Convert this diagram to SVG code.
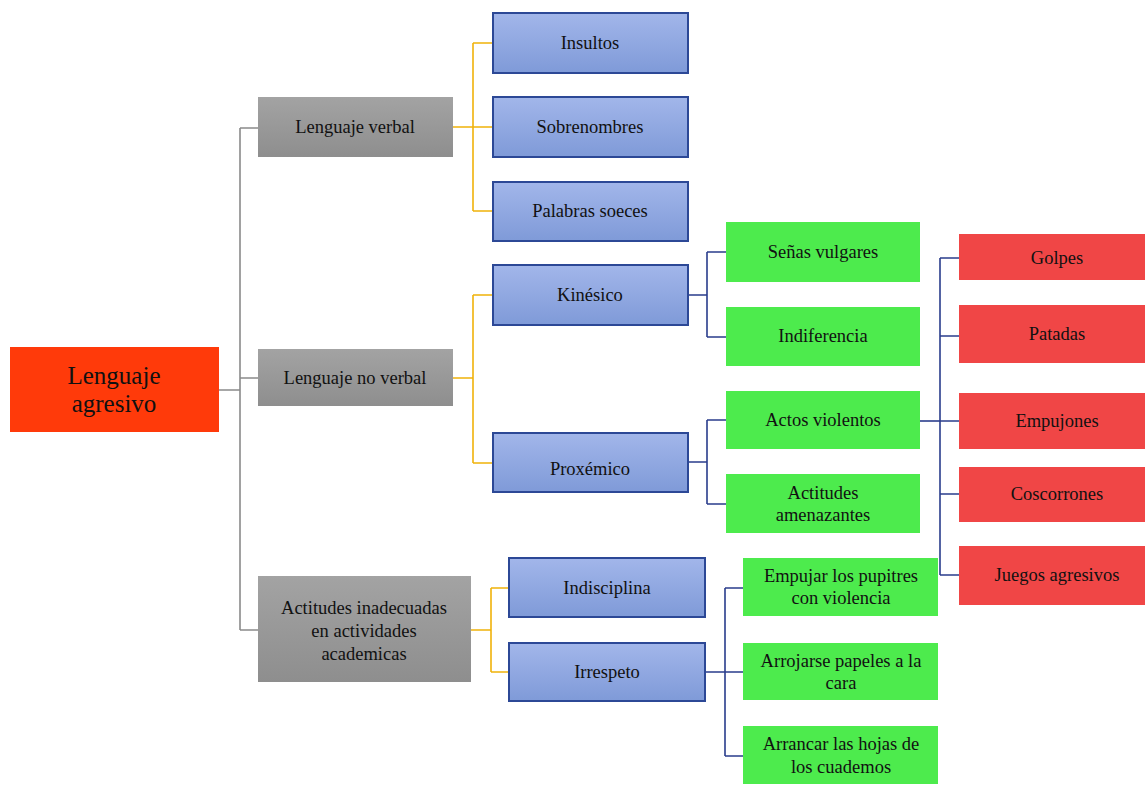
<svg xmlns="http://www.w3.org/2000/svg" width="1145" height="807" viewBox="0 0 1145 807" font-family="'Liberation Serif', 'DejaVu Serif', serif">
<defs>
<linearGradient id="gBlue" x1="0" y1="0" x2="0" y2="1"><stop offset="0" stop-color="#a2b6ea"/><stop offset="1" stop-color="#7f9ad8"/></linearGradient>
<linearGradient id="gGray" x1="0" y1="0" x2="0" y2="1"><stop offset="0" stop-color="#a3a3a3"/><stop offset="1" stop-color="#8e8e8e"/></linearGradient>
</defs>
<style>
text{font-family:'Liberation Serif','DejaVu Serif',serif;font-size:18.5px;fill:#111;text-anchor:middle}
.root{fill:#ff3a0a}
.gray{fill:url(#gGray)}
.blue{fill:url(#gBlue);stroke:#2c4896;stroke-width:2}
.green{fill:#4deb4d}
.red{fill:#f04646}
.c{fill:none;stroke-width:1.6}
.cg{stroke:#8a8a8a}
.co{stroke:#f0b20a}
.cb{stroke:#2a3d8c}
</style>
<rect width="1145" height="807" fill="#fff"/>
<g id="connectors">
<path class="c cg" d="M219 390H240M240 128V630M240 128H258M240 378H258M240 630H258"/>
<path class="c co" d="M453 127H473M473 43V211M473 43H493M473 127H493M473 211H493"/>
<path class="c co" d="M453 378H473M473 295V463M473 295H493M473 463H493"/>
<path class="c co" d="M471 630H491M491 588V672M491 588H509M491 672H509"/>
<path class="c cb" d="M688 295H707M707 252V337M707 252H726M707 337H726"/>
<path class="c cb" d="M688 462H707M707 420V504M707 420H726M707 504H726"/>
<path class="c cb" stroke-width="2.5" d="M920 421H940"/>
<path class="c cb" d="M940 258V575M940 258H959M940 336H959M940 421H959M940 494H959M940 575H959"/>
<path class="c cb" d="M706 672H725M725 588V756M725 588H743M725 672H743M725 756H743"/>
</g>
<g id="n-root"><rect class="root" x="10" y="347" width="209" height="85"/><text x="114" y="384" style="font-size:25px">Lenguaje</text><text x="114" y="412" style="font-size:25px">agresivo</text></g>
<g id="n-verbal"><rect class="gray" x="258" y="97" width="195" height="60"/><text x="355" y="133">Lenguaje verbal</text></g>
<g id="n-noverbal"><rect class="gray" x="258" y="349" width="195" height="57"/><text x="355" y="384">Lenguaje no verbal</text></g>
<g id="n-actitudes"><rect class="gray" x="258" y="576" width="213" height="106"/><text x="364" y="614">Actitudes inadecuadas</text><text x="364" y="637">en actividades</text><text x="364" y="660">academicas</text></g>
<g id="n-insultos"><rect class="blue" x="493" y="13" width="195" height="60"/><text x="590" y="49">Insultos</text></g>
<g id="n-sobrenombres"><rect class="blue" x="493" y="97" width="195" height="60"/><text x="590" y="133">Sobrenombres</text></g>
<g id="n-palabras"><rect class="blue" x="493" y="182" width="195" height="59"/><text x="590" y="217">Palabras soeces</text></g>
<g id="n-kinesico"><rect class="blue" x="493" y="265" width="195" height="60"/><text x="590" y="301">Kinésico</text></g>
<g id="n-proxemico"><rect class="blue" x="493" y="433" width="195" height="59"/><text x="590" y="475">Proxémico</text></g>
<g id="n-indisciplina"><rect class="blue" x="509" y="558" width="196" height="59"/><text x="607" y="594">Indisciplina</text></g>
<g id="n-irrespeto"><rect class="blue" x="509" y="643" width="196" height="58"/><text x="607" y="678">Irrespeto</text></g>
<g id="n-senas"><rect class="green" x="726" y="222" width="194" height="60"/><text x="823" y="258">Señas vulgares</text></g>
<g id="n-indiferencia"><rect class="green" x="726" y="307" width="194" height="59"/><text x="823" y="342">Indiferencia</text></g>
<g id="n-actos"><rect class="green" x="726" y="391" width="194" height="58"/><text x="823" y="426">Actos violentos</text></g>
<g id="n-amenazantes"><rect class="green" x="726" y="474" width="194" height="59"/><text x="823" y="499">Actitudes</text><text x="823" y="521">amenazantes</text></g>
<g id="n-empujar"><rect class="green" x="743" y="558" width="195" height="58"/><text x="841" y="582">Empujar los pupitres</text><text x="841" y="604">con violencia</text></g>
<g id="n-arrojarse"><rect class="green" x="743" y="643" width="195" height="57"/><text x="841" y="667">Arrojarse papeles a la</text><text x="841" y="689">cara</text></g>
<g id="n-arrancar"><rect class="green" x="743" y="726" width="195" height="58"/><text x="841" y="750">Arrancar las hojas de</text><text x="841" y="773">los cuademos</text></g>
<g id="n-golpes"><rect class="red" x="959" y="234" width="195" height="46"/><text x="1057" y="264">Golpes</text></g>
<g id="n-patadas"><rect class="red" x="959" y="305" width="195" height="58"/><text x="1057" y="340">Patadas</text></g>
<g id="n-empujones"><rect class="red" x="959" y="393" width="195" height="56"/><text x="1057" y="427">Empujones</text></g>
<g id="n-coscorrones"><rect class="red" x="959" y="467" width="195" height="55"/><text x="1057" y="500">Coscorrones</text></g>
<g id="n-juegos"><rect class="red" x="959" y="546" width="195" height="59"/><text x="1057" y="581">Juegos agresivos</text></g>
</svg>
